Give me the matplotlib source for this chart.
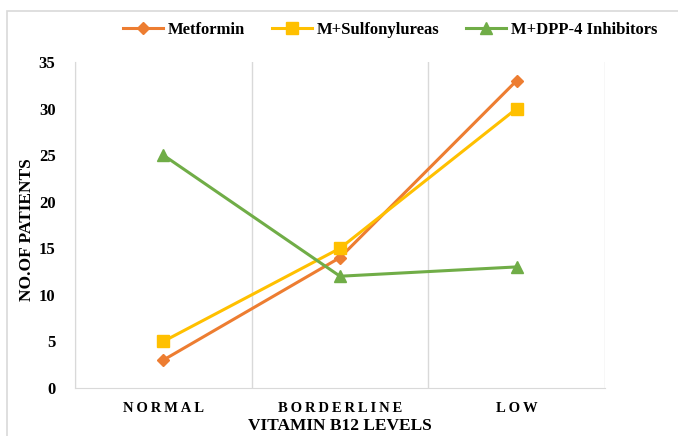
import matplotlib.pyplot as plt
from matplotlib.patches import Rectangle

categories = ["NORMAL", "BORDERLINE", "LOW"]
metformin = [3, 14, 33]
m_sulfonylureas = [5, 15, 30]
m_dpp4 = [25, 12, 13]

W, H = 678, 436
plt.rcParams['font.family'] = ['Liberation Serif', 'DejaVu Serif']
plt.rcParams['font.weight'] = 'bold'

fig = plt.figure(figsize=(W / 100, H / 100), dpi=100)
ax = fig.add_axes([75 / W, 1 - 388 / H, (605 - 75) / W, (388 - 62) / H])

# light frame around chart area
fig.patches.append(Rectangle((7 / W, -0.05), 1.1, 1 - 11 / H + 0.05, transform=fig.transFigure,
                             fill=False, edgecolor='#d9d9d9', linewidth=1.2))

x = range(len(categories))
ax.plot(x, metformin, color='#ED7D31', marker='D', markersize=6, linewidth=2.2, label='Metformin')
ax.plot(x, m_sulfonylureas, color='#FFC000', marker='s', markersize=8, linewidth=2.2, label='M+Sulfonylureas')
ax.plot(x, m_dpp4, color='#70AD47', marker='^', markersize=8, linewidth=2.2, label='M+DPP-4 Inhibitors')

ax.set_xlim(-0.5, 2.5)
ax.set_ylim(0, 35)
ax.set_yticks(range(0, 36, 5))
ax.set_xticks(list(x))
spaced = ['\u2009'.join(c) for c in categories]
ax.set_xticklabels(spaced, fontsize=10.5, fontweight='bold')
ax.set_xticks([-0.5, 0.5, 1.5, 2.5], minor=True)
ax.grid(True, which='minor', axis='x', color='#d9d9d9', linewidth=1)
ax.tick_params(axis='both', which='both', length=0)
ax.tick_params(axis='y', labelsize=12, pad=14)
ax.tick_params(axis='x', pad=10)
for lab in ax.get_yticklabels():
    lab.set_fontweight('bold')
for s in ['top', 'right']:
    ax.spines[s].set_visible(False)
ax.spines['bottom'].set_color('#d9d9d9')
ax.spines['left'].set_color('#d9d9d9')

ax.set_xlabel('VITAMIN B12 LEVELS', fontsize=12.5, fontweight='bold')
ax.set_ylabel('NO.OF PATIENTS', fontsize=12.5, fontweight='bold')
ax.xaxis.set_label_coords(0.5, -0.092)
ax.yaxis.set_label_coords(-0.075, 0.485)

fig.legend(loc='center', bbox_to_anchor=(390 / W, 1 - 30 / H), ncol=3, frameon=False,
           prop={'size': 12, 'weight': 'bold'}, handlelength=2.4, columnspacing=1.6, handletextpad=0.3)

fig.savefig('out.png', dpi=100)
